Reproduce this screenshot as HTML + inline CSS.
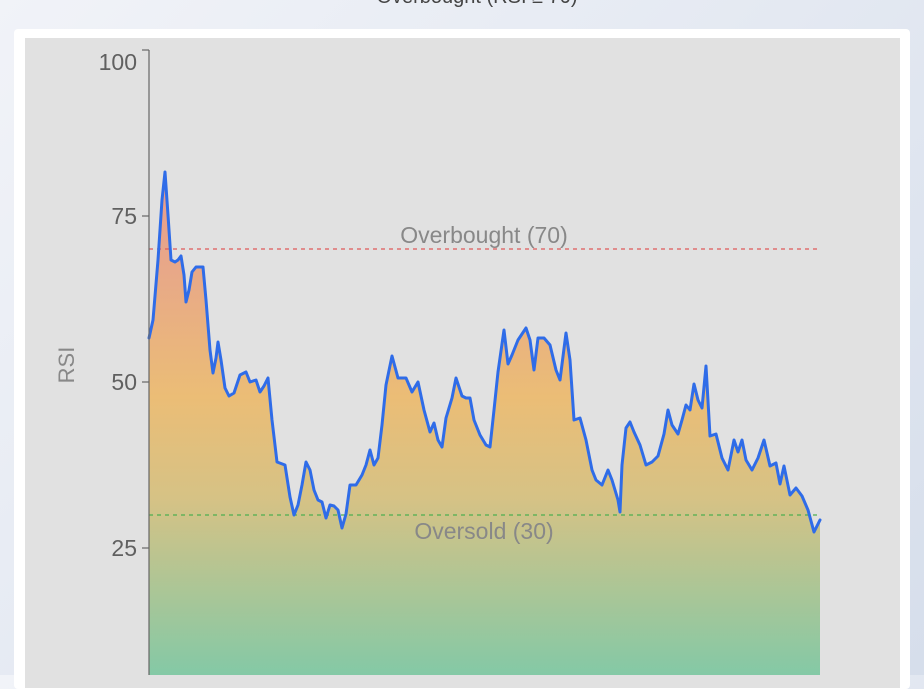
<!DOCTYPE html>
<html><head><meta charset="utf-8"><style>
html,body{margin:0;padding:0;width:924px;height:675px;overflow:hidden;background:linear-gradient(135deg,#f1f3f8 0%,#e4e9f2 50%,#d6deeb 100%);font-family:"Liberation Sans",sans-serif}
.t{position:absolute;left:0;width:954px;text-align:center;top:-14px;font-size:20px;color:#444}
.card{position:absolute;left:14px;top:29px;width:896px;height:660px;background:#fff;border-radius:4px}
.plot{position:absolute;left:25px;top:38px;width:875px;height:650px;background:#e1e1e1}
svg{position:absolute;left:0;top:0}
</style></head><body>
<div class="t">Overbought (RSI ≥ 70)</div>
<div class="card"></div>
<div class="plot"></div>
<svg width="924" height="675" font-family="Liberation Sans, sans-serif">
<defs><linearGradient id="g" gradientUnits="userSpaceOnUse" x1="0" y1="170" x2="0" y2="675">
<stop offset="0" stop-color="#e99c8e"/><stop offset="0.2" stop-color="#e8a888"/><stop offset="0.45" stop-color="#ebbd76"/><stop offset="0.65" stop-color="#d6c285"/><stop offset="1" stop-color="#84c9a6"/></linearGradient></defs>
<polygon fill="url(#g)" points="149,700 149,338 153,320 158,260 162,200 165,172 168,215 171,260 175,262 178,260 181,256 184,275 186,302 189,290 192,272 196,267 203,267 206,300 210,350 213,373 216,358 218,342 221,360 225,388 229,396 234,393 240,375 246,372 250,382 256,380 260,392 264,386 268,378 272,420 277,462 285,465 290,497 294,515 298,505 302,485 306,462 310,470 314,490 318,500 322,502 326,518 330,505 334,506 338,510 342,528 346,514 350,485 356,485 362,475 366,465 370,450 374,465 378,458 382,425 386,385 392,356 398,378 406,378 412,392 418,382 424,410 430,432 434,423 438,440 442,447 446,418 452,398 456,378 462,396 466,398 470,398 474,420 480,435 486,445 490,447 494,410 498,372 504,330 508,364 512,355 518,340 526,328 530,340 534,370 538,338 544,338 550,345 556,370 560,380 566,333 570,360 574,420 580,418 586,440 592,470 596,480 602,485 608,470 612,480 618,500 620,512 622,465 626,428 630,422 634,432 640,445 646,465 652,462 658,456 664,434 668,410 672,425 678,434 682,420 686,405 690,410 694,384 698,400 702,408 706,366 710,436 716,434 722,458 728,470 734,440 738,452 742,440 746,460 752,470 758,458 764,440 770,466 776,463 780,484 784,466 790,495 796,488 802,496 808,510 814,532 820,520 820,700"/>
<line x1="149" y1="249" x2="820" y2="249" stroke="#e05a5a" stroke-width="1.3" stroke-dasharray="4,4"/>
<line x1="149" y1="515" x2="820" y2="515" stroke="#4caf50" stroke-width="1.3" stroke-dasharray="4,4"/>
<polyline fill="none" stroke="#2f6ce8" stroke-width="3" stroke-linejoin="round" stroke-linecap="round" points="149,338 153,320 158,260 162,200 165,172 168,215 171,260 175,262 178,260 181,256 184,275 186,302 189,290 192,272 196,267 203,267 206,300 210,350 213,373 216,358 218,342 221,360 225,388 229,396 234,393 240,375 246,372 250,382 256,380 260,392 264,386 268,378 272,420 277,462 285,465 290,497 294,515 298,505 302,485 306,462 310,470 314,490 318,500 322,502 326,518 330,505 334,506 338,510 342,528 346,514 350,485 356,485 362,475 366,465 370,450 374,465 378,458 382,425 386,385 392,356 398,378 406,378 412,392 418,382 424,410 430,432 434,423 438,440 442,447 446,418 452,398 456,378 462,396 466,398 470,398 474,420 480,435 486,445 490,447 494,410 498,372 504,330 508,364 512,355 518,340 526,328 530,340 534,370 538,338 544,338 550,345 556,370 560,380 566,333 570,360 574,420 580,418 586,440 592,470 596,480 602,485 608,470 612,480 618,500 620,512 622,465 626,428 630,422 634,432 640,445 646,465 652,462 658,456 664,434 668,410 672,425 678,434 682,420 686,405 690,410 694,384 698,400 702,408 706,366 710,436 716,434 722,458 728,470 734,440 738,452 742,440 746,460 752,470 758,458 764,440 770,466 776,463 780,484 784,466 790,495 796,488 802,496 808,510 814,532 820,520"/>
<g stroke="#666" stroke-width="1.2"><line x1="149" y1="50" x2="149" y2="675"/><line x1="142" y1="50" x2="149" y2="50"/><line x1="142" y1="216" x2="149" y2="216"/><line x1="142" y1="382" x2="149" y2="382"/><line x1="142" y1="548" x2="149" y2="548"/></g>
<g fill="#606060" font-size="23" text-anchor="end"><text x="137" y="70">100</text><text x="137" y="224">75</text><text x="137" y="390">50</text><text x="137" y="556">25</text></g>
<text x="74" y="365" fill="#888" font-size="22" text-anchor="middle" transform="rotate(-90 74 365)">RSI</text>
<text x="484" y="243" fill="#888" font-size="23" text-anchor="middle">Overbought (70)</text>
<text x="484" y="539" fill="#888" font-size="23" text-anchor="middle">Oversold (30)</text>
</svg>
</body></html>
